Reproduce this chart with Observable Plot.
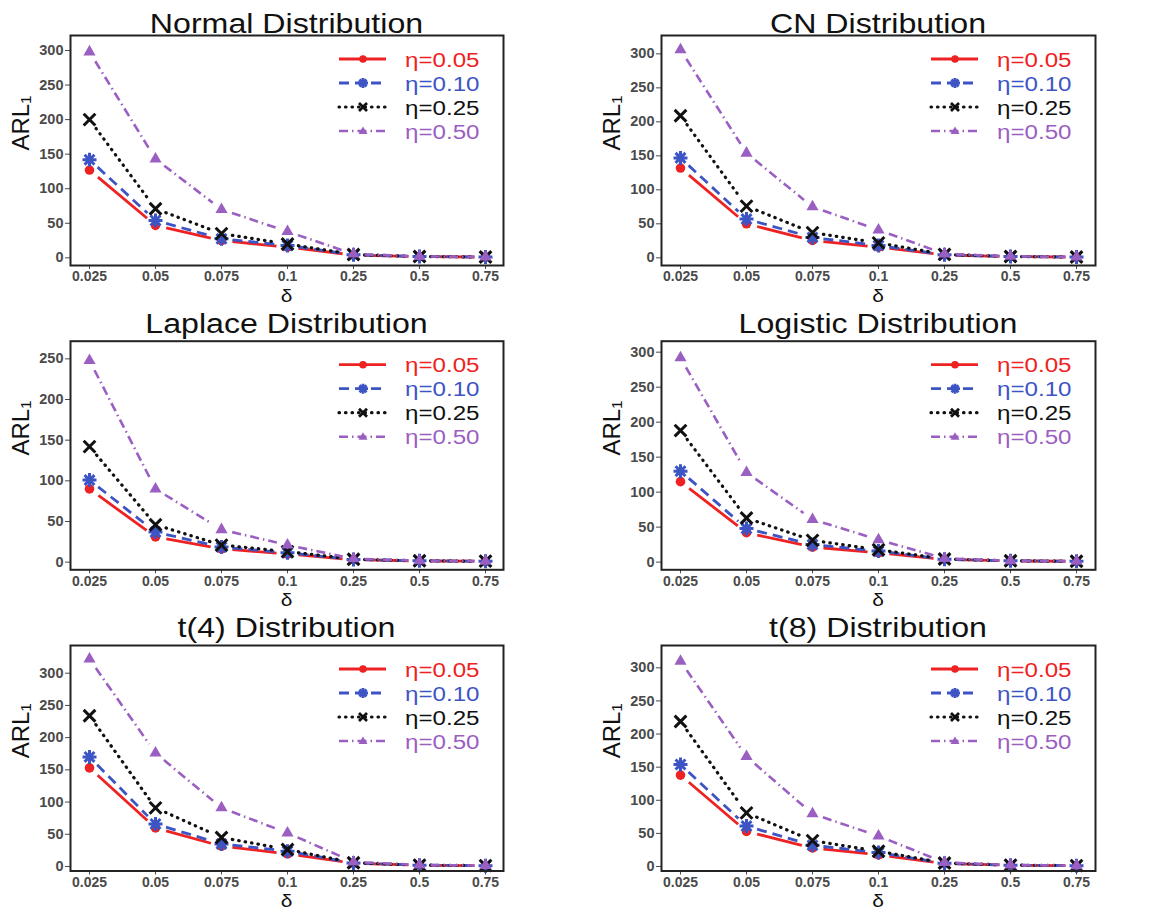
<!DOCTYPE html>
<html><head><meta charset="utf-8">
<script src="https://cdn.jsdelivr.net/npm/d3@7"></script>
<script src="https://cdn.jsdelivr.net/npm/@observablehq/plot@0.6"></script>
<style>
body{margin:0;background:#fff;}
#wrap{position:relative;width:1149px;height:911px;font-family:"Liberation Sans",Arial,sans-serif;overflow:hidden;}
.panel{position:absolute;}
.panel svg{display:block;overflow:visible;}
.overlay{position:absolute;left:0;top:0;pointer-events:none;}
</style></head><body><div id="wrap"></div>
<script>
// categories
const deltas = ["0.025","0.05","0.075","0.1","0.25","0.5","0.75"];
const etas = ["η=0.05","η=0.10","η=0.25","η=0.50"];
const titles = ["Normal Distribution","CN Distribution","Laplace Distribution","Logistic Distribution","t(4) Distribution","t(8) Distribution"];
// ARL1 values: rows = eta 0.05, 0.10, 0.25, 0.50 ; columns = delta
const normalARL = [
  [127, 47, 25, 15.5, 4.0, 1.8, 1.1],
  [142, 54, 27.5, 18, 4.4, 1.9, 1.2],
  [200, 71, 35, 20, 4.8, 2.0, 1.2],
  [298, 143, 70, 38, 5.5, 2.1, 1.3]
];
const cnARL = [
  [132, 50, 25.5, 15.7, 4.2, 1.8, 1.1],
  [147, 57, 30, 18, 4.5, 1.9, 1.2],
  [209, 76, 37, 22, 5.0, 2.0, 1.2],
  [306, 154, 75, 41, 5.8, 2.2, 1.3]
];
const laplaceARL = [
  [90, 31, 16.5, 10, 3.0, 1.5, 1.1],
  [101, 37, 18.5, 11.5, 3.3, 1.6, 1.1],
  [142, 46, 21, 13, 3.6, 1.7, 1.2],
  [248, 90, 40, 21, 4.2, 1.8, 1.2]
];
const logisticARL = [
  [115, 42, 21.5, 13.3, 3.8, 1.7, 1.1],
  [130, 48, 25, 15.7, 4.1, 1.8, 1.2],
  [188, 63, 31, 17.6, 4.5, 1.9, 1.2],
  [292, 128, 61, 32, 5.2, 2.0, 1.3]
];
const t4ARL = [
  [153, 60, 31.5, 19.7, 5.0, 2.0, 1.2],
  [170, 66, 35, 23.8, 5.4, 2.1, 1.3],
  [234, 91, 45, 26.4, 5.8, 2.2, 1.3],
  [322, 176, 91, 52, 7.0, 2.4, 1.4]
];
const t8ARL = [
  [138, 53, 28, 17.6, 4.5, 1.9, 1.2],
  [154, 61, 32, 21, 4.8, 2.0, 1.2],
  [219, 81, 39, 23, 5.2, 2.1, 1.3],
  [310, 166, 79.5, 46, 6.2, 2.2, 1.3]
];
const panelData = [normalARL, cnARL, laplaceARL, logisticARL, t4ARL, t8ARL];
const yTicksA = [0, 50, 100, 150, 200, 250, 300];
const yTicksB = [0, 50, 100, 150, 200, 250];

// styling
const FONT = '"Liberation Sans", Arial, sans-serif';
const colors = ["#EE2222", "#3D55C4", "#111111", "#9B5FC2"];
const dashes = [null, "10,6", "0.5,6", "9,4,1.5,4"];
const caps = ["butt", "butt", "round", "butt"];
const lineW = [2.8, 2.8, 3.2, 2.6];
const yDomains = [[-11.1, 321.7], [-11.3, 327], [-9.4, 271.7], [-11, 315.7], [-7, 343], [-6.8, 333.7]];
const cols = [{left: 0, width: 575, ml: 70, mr: 72}, {left: 575, width: 574, ml: 86, mr: 54}];
const rowsL = [
  {top: 0, height: 303, mt: 35, mb: 38, titleBase: 33},
  {top: 303, height: 304, mt: 37.7, mb: 37.7, titleBase: 30},
  {top: 607, height: 304, mt: 38, mb: 40.5, titleBase: 30}
];

const asterisk8 = {
  draw(ctx, size) {
    const r = Math.sqrt(size / Math.PI), d = r * Math.SQRT1_2;
    ctx.moveTo(-r, 0); ctx.lineTo(r, 0);
    ctx.moveTo(0, -r); ctx.lineTo(0, r);
    ctx.moveTo(-d, -d); ctx.lineTo(d, d);
    ctx.moveTo(-d, d); ctx.lineTo(d, -d);
  }
};

function dotMark(s, data) {
  if (s === 0) return Plot.dot(data, {x: "delta", y: "arl", r: 4.8, fill: colors[0], symbol: "circle"});
  if (s === 1) return Plot.dot(data, {x: "delta", y: "arl", r: 7, stroke: colors[1], fill: "none", strokeWidth: 3, symbol: asterisk8});
  if (s === 2) return Plot.dot(data, {x: "delta", y: "arl", r: 5.4, stroke: colors[2], strokeWidth: 3, symbol: "times"});
  return Plot.dot(data, {x: "delta", y: "arl", r: 5.8, fill: colors[3], symbol: "triangle2"});
}

const wrap = document.getElementById("wrap");
panelData.forEach((series, p) => {
  const c = cols[p % 2], rw = rowsL[Math.floor(p / 2)];
  const marks = [
    Plot.axisX({tickSize: 4, tickPadding: 2, fontSize: 14, fontWeight: "bold", color: "#4a4a4a", label: null}),
    Plot.axisY({ticks: p === 2 ? yTicksB : yTicksA, tickSize: 5, tickPadding: 2, fontSize: 14.5, fontWeight: "bold", color: "#4a4a4a", label: null})
  ];
  series.forEach((vals, s) => {
    const pts = vals.map((v, i) => ({delta: deltas[i], arl: v}));
    const segs = vals.slice(0, -1).map((v, i) => ({x1: deltas[i], y1: v, x2: deltas[i + 1], y2: vals[i + 1]}));
    marks.push(Plot.arrow(segs, {x1: "x1", y1: "y1", x2: "x2", y2: "y2", headLength: 0, insetStart: 11, insetEnd: 11,
      stroke: colors[s], strokeWidth: lineW[s], strokeDasharray: dashes[s], strokeLinecap: caps[s]}));
    marks.push(dotMark(s, pts));
  });
  marks.push(Plot.frame({stroke: "#222", strokeWidth: 2}));
  marks.push(Plot.text(["ARL₁"], {frameAnchor: "left", dx: -49, rotate: -90, fontSize: 24, fill: "#111"}));

  const chart = Plot.plot({
    width: c.width, height: rw.height,
    marginLeft: c.ml, marginRight: c.mr, marginTop: rw.mt, marginBottom: rw.mb,
    style: {fontFamily: FONT, background: "transparent", overflow: "visible"},
    x: {type: "point", domain: deltas, padding: 0.24},
    y: {domain: yDomains[p]},
    marks
  });
  const div = document.createElement("div");
  div.className = "panel";
  div.style.left = c.left + "px"; div.style.top = rw.top + "px";
  div.style.width = c.width + "px"; div.style.height = rw.height + "px";
  div.appendChild(chart);

  // overlay: title, x-axis label, legend
  const fl = c.ml, fr = c.width - c.mr, ft = rw.mt, fb = rw.height - rw.mb, fcx = (fl + fr) / 2;
  const ov = d3.select(div).append("svg").attr("class", "overlay").attr("width", c.width).attr("height", rw.height)
    .attr("font-family", FONT);
  ov.append("text").attr("transform", `translate(${fcx},${rw.titleBase}) scale(1.17,1)`)
    .attr("text-anchor", "middle").attr("font-size", 27.5).attr("fill", "#111").text(titles[p]);
  ov.append("text").attr("transform", `translate(${fcx},${fb + 36.5}) scale(1.1,1)`)
    .attr("text-anchor", "middle").attr("font-size", 19).attr("fill", "#111").text("δ");
  etas.forEach((lab, s) => {
    const y = ft + 24 + 24 * s;
    const g = ov.append("g");
    g.append("line").attr("x1", fr - 164).attr("x2", fr - 117).attr("y1", y).attr("y2", y)
      .attr("stroke", colors[s]).attr("stroke-width", lineW[s])
      .attr("stroke-dasharray", dashes[s]).attr("stroke-linecap", caps[s]);
    const mx = fr - 140;
    if (s === 0) g.append("circle").attr("cx", mx).attr("cy", y).attr("r", 3.8).attr("fill", colors[0]);
    else if (s === 1) { const pth = d3.path(); asterisk8.draw(pth, Math.PI * 25); g.append("path").attr("transform", `translate(${mx},${y})`).attr("d", pth.toString()).attr("stroke", colors[1]).attr("stroke-width", 2.8).attr("fill", "none"); }
    else if (s === 2) g.append("path").attr("transform", `translate(${mx},${y})`).attr("d", "M-4,-4L4,4M-4,4L4,-4").attr("stroke", colors[2]).attr("stroke-width", 2.8).attr("fill", "none");
    else g.append("path").attr("transform", `translate(${mx},${y})`).attr("d", "M0,-4.5L4.5,3L-4.5,3Z").attr("fill", colors[3]);
    g.append("text").attr("transform", `translate(${fr - 98},${y}) scale(1.15,1)`).attr("dy", "0.36em").attr("font-size", 21)
      .attr("fill", colors[s]).text(lab);
  });
  wrap.appendChild(div);
});
</script></body></html>
